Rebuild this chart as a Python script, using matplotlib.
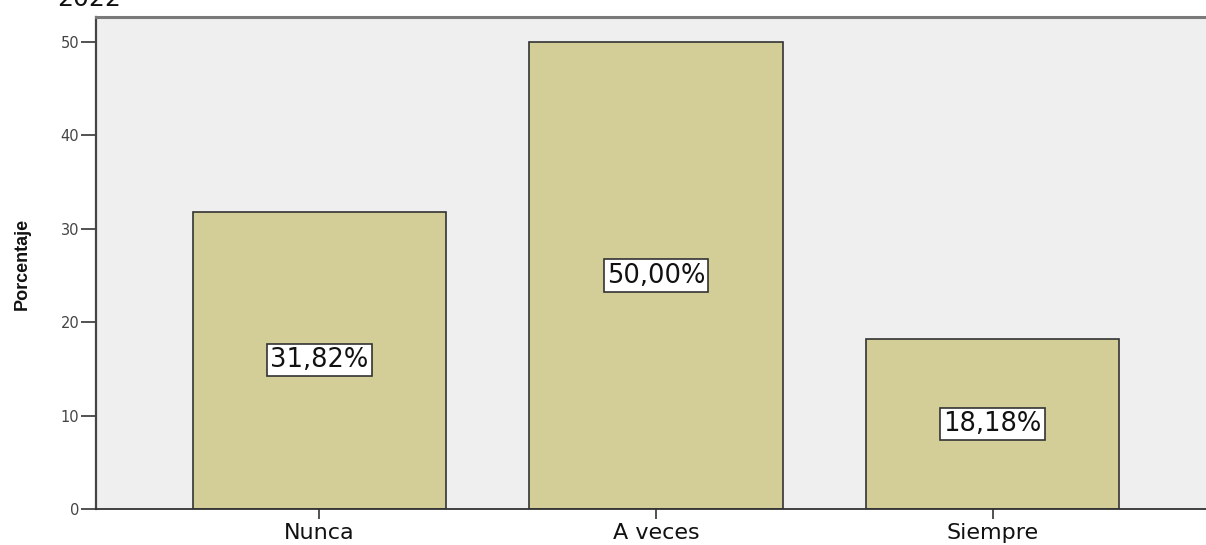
import matplotlib
matplotlib.use("Agg")
import matplotlib.pyplot as plt

# data
categories = ["Nunca", "A veces", "Siempre"]
porcentajes = [31.82, 50.00, 18.18]
etiquetas = ["31,82%", "50,00%", "18,18%"]
yticks = [0, 10, 20, 30, 40, 50]

fig = plt.figure(figsize=(12.06, 5.45), dpi=100)
ax = fig.add_axes([96 / 1206, 1 - 509 / 545, 1 - 96 / 1206, (509 - 17) / 545])
ax.set_facecolor("#efefef")

x = list(range(len(categories)))
ax.bar(x, porcentajes, width=0.752, color="#d3ce97", edgecolor="#333333",
       linewidth=1.2, zorder=2)

# value boxes in the middle of each bar
for xi, val, txt in zip(x, porcentajes, etiquetas):
    ax.text(xi, val / 2, txt, ha="center", va="center", fontsize=18.5,
            family="DejaVu Sans", color="#111111", zorder=3,
            bbox=dict(boxstyle="square,pad=0.12", fc="white", ec="#333333", lw=1.2))

ax.set_xlim(-0.664, 2.634)
ax.set_ylim(0, 52.68)
ax.set_yticks(yticks)
ax.set_yticklabels([str(t) for t in yticks], fontsize=10.5, family="DejaVu Sans",
                   color="#444444")
ax.set_xticks(x)
ax.set_xticklabels(categories, fontsize=16, family="DejaVu Sans", color="#111111")
ax.tick_params(axis="y", length=11, width=1.2, color="#333333", pad=1)
ax.tick_params(axis="x", length=7, width=1.2, color="#333333", pad=3)

ax.spines["right"].set_visible(False)
ax.spines["top"].set_color("#7a7a7a")
ax.spines["top"].set_linewidth(2.2)
ax.spines["left"].set_color("#444444")
ax.spines["left"].set_linewidth(1.6)
ax.spines["bottom"].set_color("#333333")
ax.spines["bottom"].set_linewidth(1.3)

fig.text(22 / 1206, 1 - 264 / 545, "Porcentaje", rotation=90, ha="center",
         va="center", fontsize=13, fontweight="bold", family="Liberation Sans",
         color="#111111")

# title is cut off at the top of the image
fig.text(57 / 1206, 1 - 6 / 545, "2022", ha="left", va="baseline", fontsize=18,
         family="DejaVu Sans", color="#111111")

fig.savefig("out.png", dpi=100)
